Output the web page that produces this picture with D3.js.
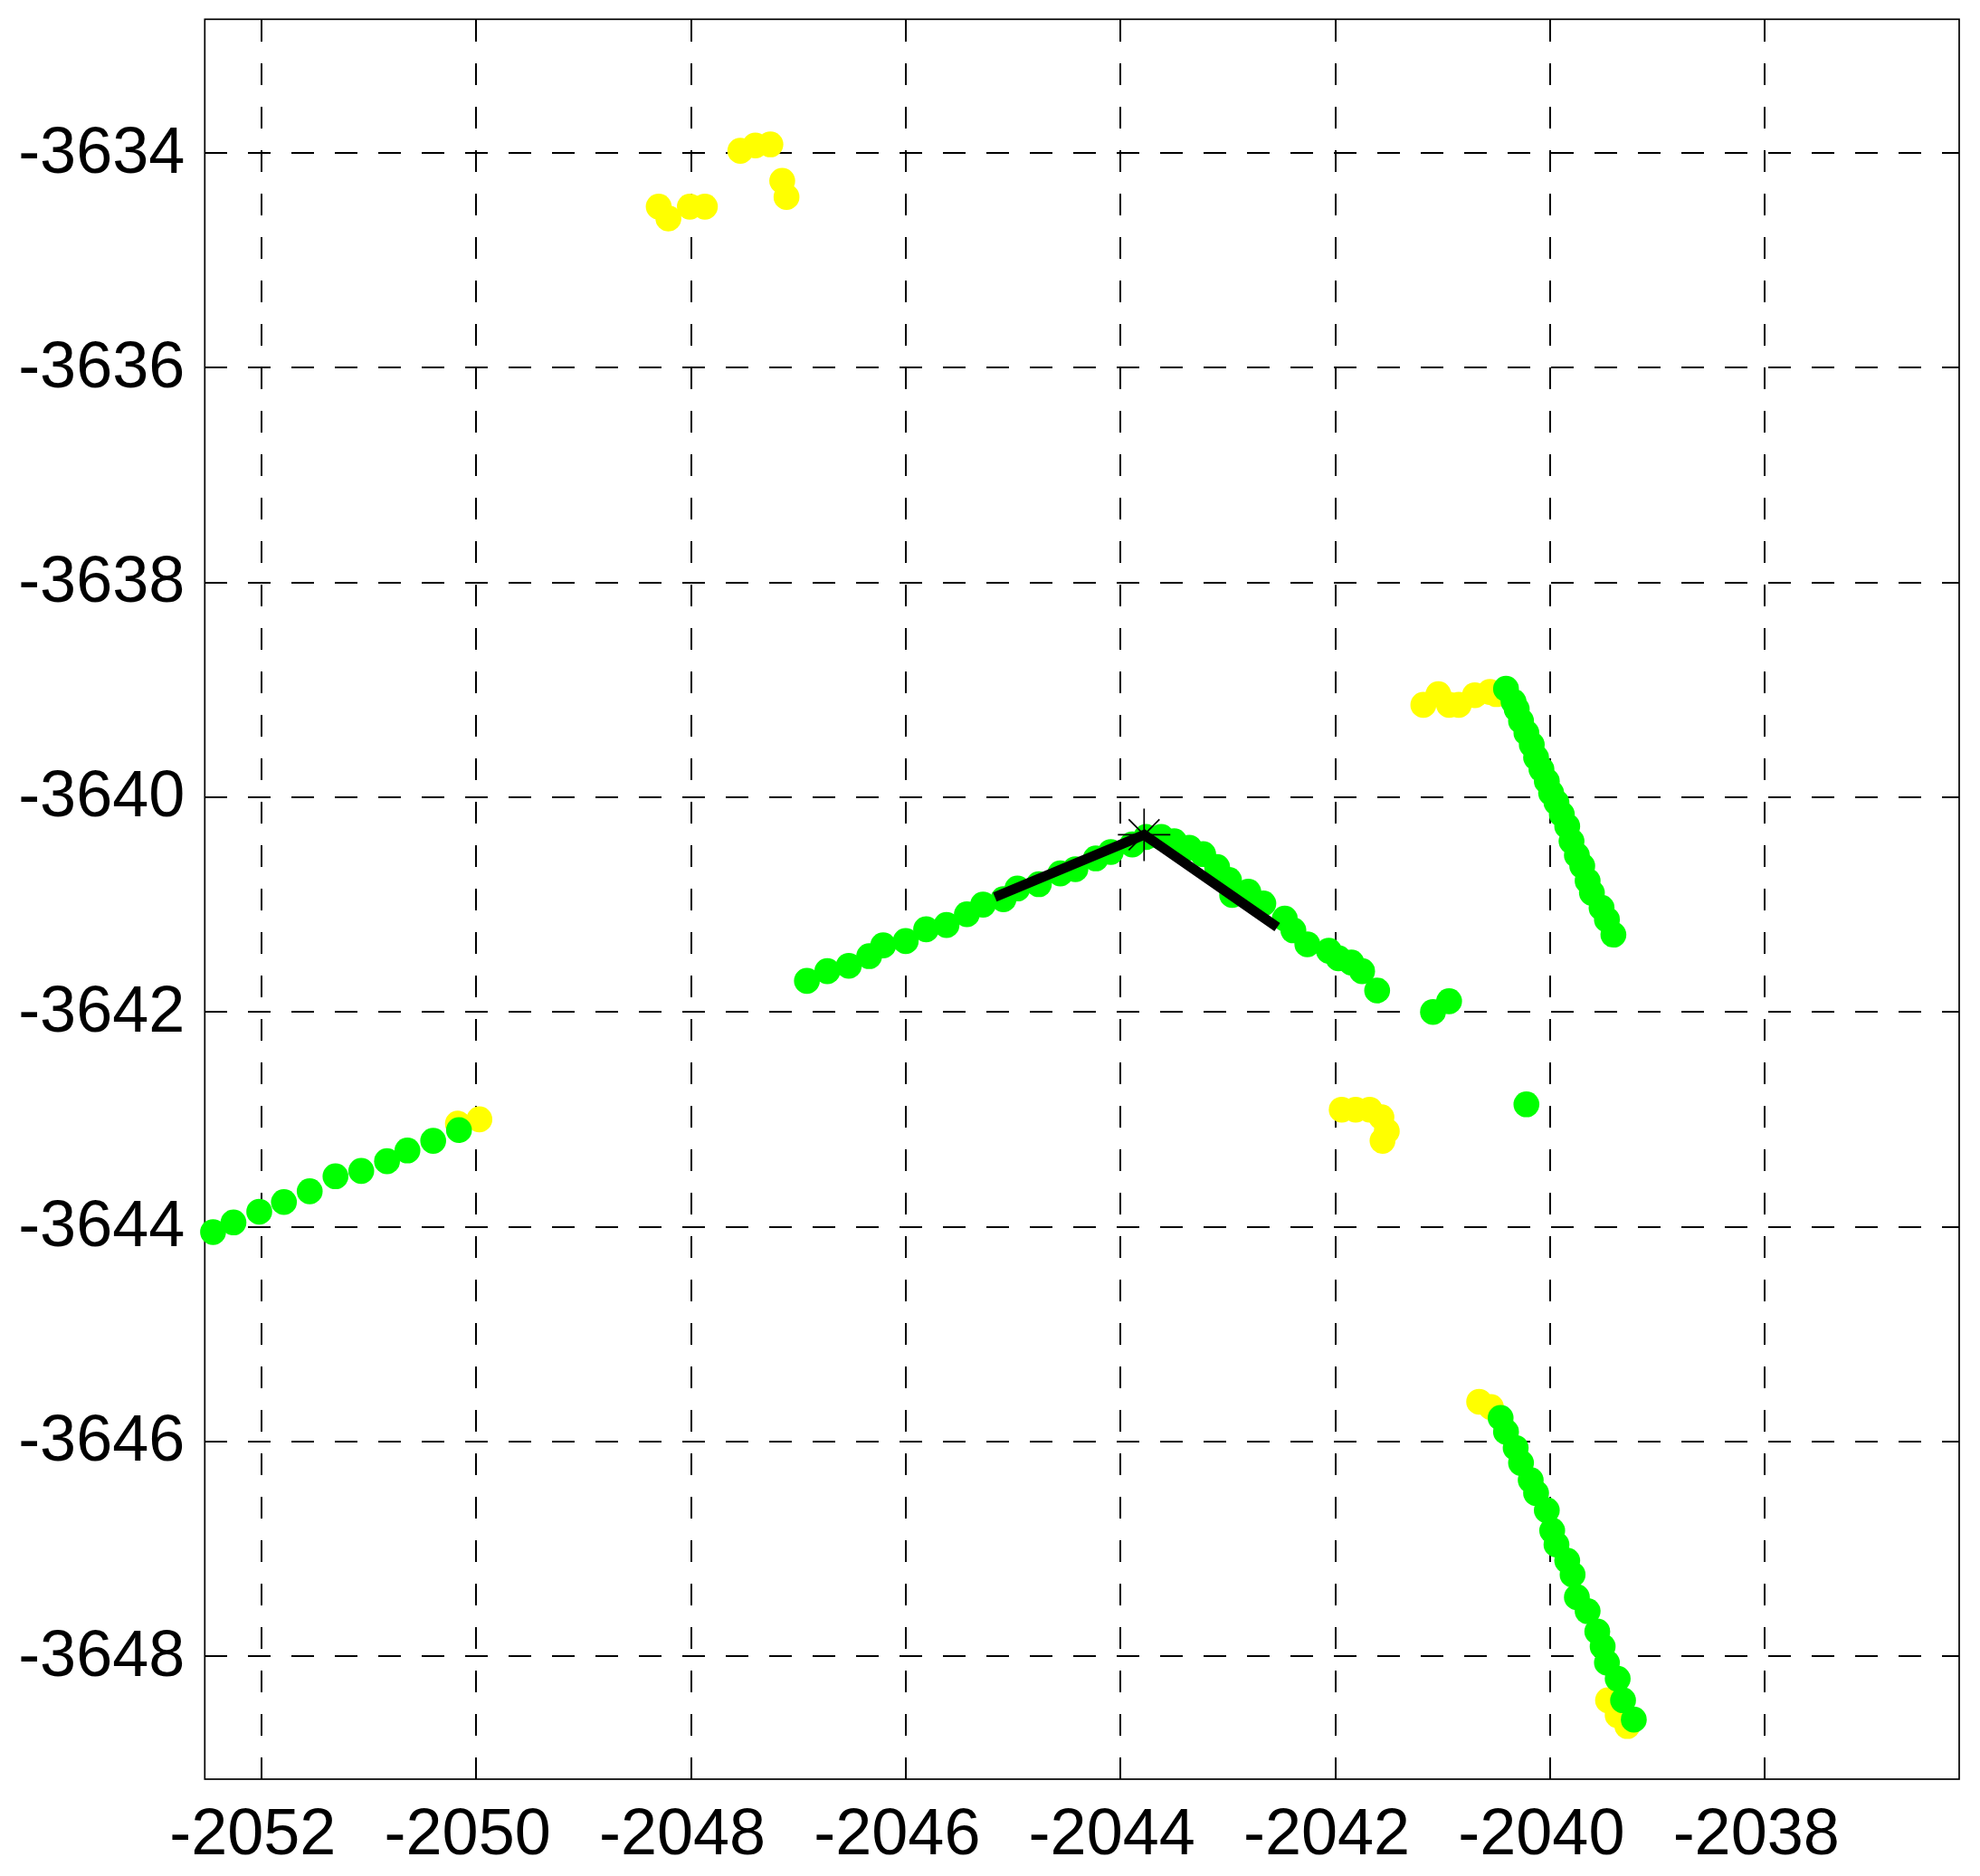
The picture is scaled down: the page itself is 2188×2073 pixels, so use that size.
<!DOCTYPE html>
<html><head><meta charset="utf-8">
<script src="https://cdn.jsdelivr.net/npm/d3@7"></script>
<style>html,body{margin:0;padding:0;background:#fff;overflow:hidden}</style>
</head><body>
<svg id="chart" width="2188" height="2073"></svg>
<script>
// ---- data ----
const xTicks = [-2052, -2050, -2048, -2046, -2044, -2042, -2040, -2038];
const yTicks = [-3634, -3636, -3638, -3640, -3642, -3644, -3646, -3648];
const xDomain = [-2052.527, -2036.19];
const yDomain = [-3649.145, -3632.755];

const yellowPoints = [
  [-2048.30,-3634.50],[-2048.21,-3634.61],[-2048.01,-3634.50],[-2047.87,-3634.50],
  [-2047.54,-3633.98],[-2047.40,-3633.93],[-2047.26,-3633.92],[-2047.15,-3634.26],[-2047.11,-3634.41],
  [-2050.17,-3643.04],[-2049.97,-3643.00],
  [-2041.18,-3639.14],[-2041.04,-3639.04],[-2040.94,-3639.14],[-2040.85,-3639.14],
  [-2040.70,-3639.05],[-2040.56,-3639.02],[-2040.50,-3639.04],
  [-2041.94,-3642.91],[-2041.81,-3642.91],[-2041.68,-3642.91],[-2041.57,-3642.98],
  [-2041.52,-3643.11],[-2041.56,-3643.20],
  [-2040.66,-3645.63],[-2040.55,-3645.68],
  [-2039.46,-3648.41],[-2039.37,-3648.55],[-2039.28,-3648.65]
];

const greenLeftSegment = [
  [-2052.45,-3644.05],[-2052.26,-3643.96],[-2052.02,-3643.86],[-2051.79,-3643.77],
  [-2051.55,-3643.67],[-2051.31,-3643.53],[-2051.07,-3643.48],[-2050.83,-3643.39],
  [-2050.64,-3643.29],[-2050.40,-3643.20],[-2050.16,-3643.10]
];
const greenMainLeftArm = [
  [-2046.92,-3641.71],[-2046.73,-3641.62],[-2046.53,-3641.57],[-2046.34,-3641.48],
  [-2046.21,-3641.38],[-2046.00,-3641.34],[-2045.81,-3641.23],[-2045.62,-3641.19],
  [-2045.43,-3641.09],[-2045.28,-3641.00],[-2045.09,-3640.95],[-2044.96,-3640.85],
  [-2044.76,-3640.81],[-2044.56,-3640.71],[-2044.42,-3640.67],[-2044.23,-3640.57],
  [-2044.09,-3640.51],[-2043.89,-3640.44],[-2043.76,-3640.37]
];
const greenMainRightArm = [
  [-2043.62,-3640.37],[-2043.50,-3640.41],[-2043.36,-3640.47],[-2043.23,-3640.53],
  [-2043.10,-3640.65],[-2042.99,-3640.77],[-2042.96,-3640.91],[-2042.81,-3640.88],
  [-2042.67,-3640.99],[-2042.47,-3641.13],[-2042.39,-3641.24],[-2042.26,-3641.37],
  [-2042.06,-3641.43],[-2041.97,-3641.50],[-2041.85,-3641.54],[-2041.75,-3641.62],
  [-2041.61,-3641.80]
];
const greenIsolated = [
  [-2041.09,-3642.00],[-2040.94,-3641.90],[-2040.22,-3642.86]
];
const greenUpperRight = [
  [-2040.41,-3638.99],[-2040.34,-3639.11],[-2040.31,-3639.18],[-2040.27,-3639.29],
  [-2040.22,-3639.40],[-2040.17,-3639.51],[-2040.13,-3639.63],[-2040.08,-3639.74],
  [-2040.03,-3639.85],[-2039.99,-3639.96],[-2039.94,-3640.05],[-2039.89,-3640.16],
  [-2039.84,-3640.27],[-2039.80,-3640.41],[-2039.75,-3640.54],[-2039.70,-3640.64],
  [-2039.65,-3640.78],[-2039.61,-3640.89],[-2039.52,-3641.03],[-2039.47,-3641.14],
  [-2039.41,-3641.28]
];
const greenLowerRight = [
  [-2040.46,-3645.78],[-2040.41,-3645.91],[-2040.32,-3646.06],[-2040.27,-3646.20],
  [-2040.18,-3646.36],[-2040.13,-3646.48],[-2040.03,-3646.64],[-2039.98,-3646.83],
  [-2039.94,-3646.96],[-2039.84,-3647.11],[-2039.79,-3647.24],[-2039.75,-3647.45],
  [-2039.65,-3647.58],[-2039.56,-3647.77],[-2039.51,-3647.91],[-2039.47,-3648.06],
  [-2039.37,-3648.21],[-2039.32,-3648.41],[-2039.22,-3648.59]
];

const directionLine = [[-2045.17,-3640.93],[-2043.78,-3640.35],[-2042.54,-3641.21]];
const starPoint = [-2043.78,-3640.35];

// ---- layout ----
const plot = {left: 226.3, right: 2165, top: 21.3, bottom: 1966};
const svg = d3.select("#chart");
const x = d3.scaleLinear().domain(xDomain).range([plot.left, plot.right]);
const y = d3.scaleLinear().domain(yDomain).range([plot.bottom, plot.top]);
const font = "'Liberation Sans', Arial, Helvetica, sans-serif";
const hyphenFormat = d => String(d);

// grid lines
const grid = svg.append("g").attr("stroke", "#000").attr("stroke-width", 2)
  .attr("stroke-dasharray", "24.5,23.5").attr("shape-rendering", "crispEdges");
grid.selectAll("line.v").data(xTicks).join("line").attr("class", "v")
  .attr("x1", d => Math.round(x(d))).attr("x2", d => Math.round(x(d)))
  .attr("y1", plot.bottom).attr("y2", plot.top);
grid.selectAll("line.h").data(yTicks).join("line").attr("class", "h")
  .attr("x1", plot.left).attr("x2", plot.right)
  .attr("y1", d => Math.round(y(d))).attr("y2", d => Math.round(y(d)));

// axes tick labels via d3 axes
const xAxis = d3.axisBottom(x).tickValues(xTicks).tickSize(0).tickPadding(0).tickFormat(hyphenFormat);
const gx = svg.append("g").attr("transform", `translate(0,${plot.bottom})`).call(xAxis);
gx.select(".domain").remove();
gx.selectAll("text").attr("font-family", font).attr("font-size", 72).attr("fill", "#000")
  .attr("dy", null).attr("y", 83).attr("x", -10).attr("text-anchor", "middle");

const yAxis = d3.axisLeft(y).tickValues(yTicks).tickSize(0).tickPadding(0).tickFormat(hyphenFormat);
const gy = svg.append("g").attr("transform", `translate(${plot.left},0)`).call(yAxis);
gy.select(".domain").remove();
gy.selectAll("text").attr("font-family", font).attr("font-size", 72).attr("fill", "#000")
  .attr("dy", null).attr("y", 21).attr("x", -22).attr("text-anchor", "end");

// plot box
svg.append("rect").attr("x", plot.left).attr("y", plot.top)
  .attr("width", plot.right - plot.left).attr("height", plot.bottom - plot.top)
  .attr("fill", "none").attr("stroke", "#000").attr("stroke-width", 1.7);

// points
const R = 14.3;
svg.append("g").selectAll("circle").data(yellowPoints).join("circle")
  .attr("cx", d => x(d[0])).attr("cy", d => y(d[1])).attr("r", R).attr("fill", "#ffff00");

const greenPoints = [].concat(greenLeftSegment, greenMainLeftArm, greenMainRightArm,
  greenIsolated, greenUpperRight, greenLowerRight);
svg.append("g").selectAll("circle").data(greenPoints).join("circle")
  .attr("cx", d => x(d[0])).attr("cy", d => y(d[1])).attr("r", R).attr("fill", "#00ff00");

// direction line
svg.append("path").datum(directionLine)
  .attr("d", d3.line().x(d => x(d[0])).y(d => y(d[1])))
  .attr("fill", "none").attr("stroke", "#000").attr("stroke-width", 11)
  .attr("stroke-linejoin", "miter").attr("stroke-linecap", "butt");

// star marker
const sx = x(starPoint[0]), sy = y(starPoint[1]);
const a = 29, b = 17;
svg.append("path")
  .attr("d", `M${sx-a},${sy}L${sx+a},${sy}M${sx},${sy-a}L${sx},${sy+a}` +
             `M${sx-b},${sy-b}L${sx+b},${sy+b}M${sx-b},${sy+b}L${sx+b},${sy-b}`)
  .attr("stroke", "#000").attr("stroke-width", 1.7).attr("fill", "none");
</script>
</body></html>
